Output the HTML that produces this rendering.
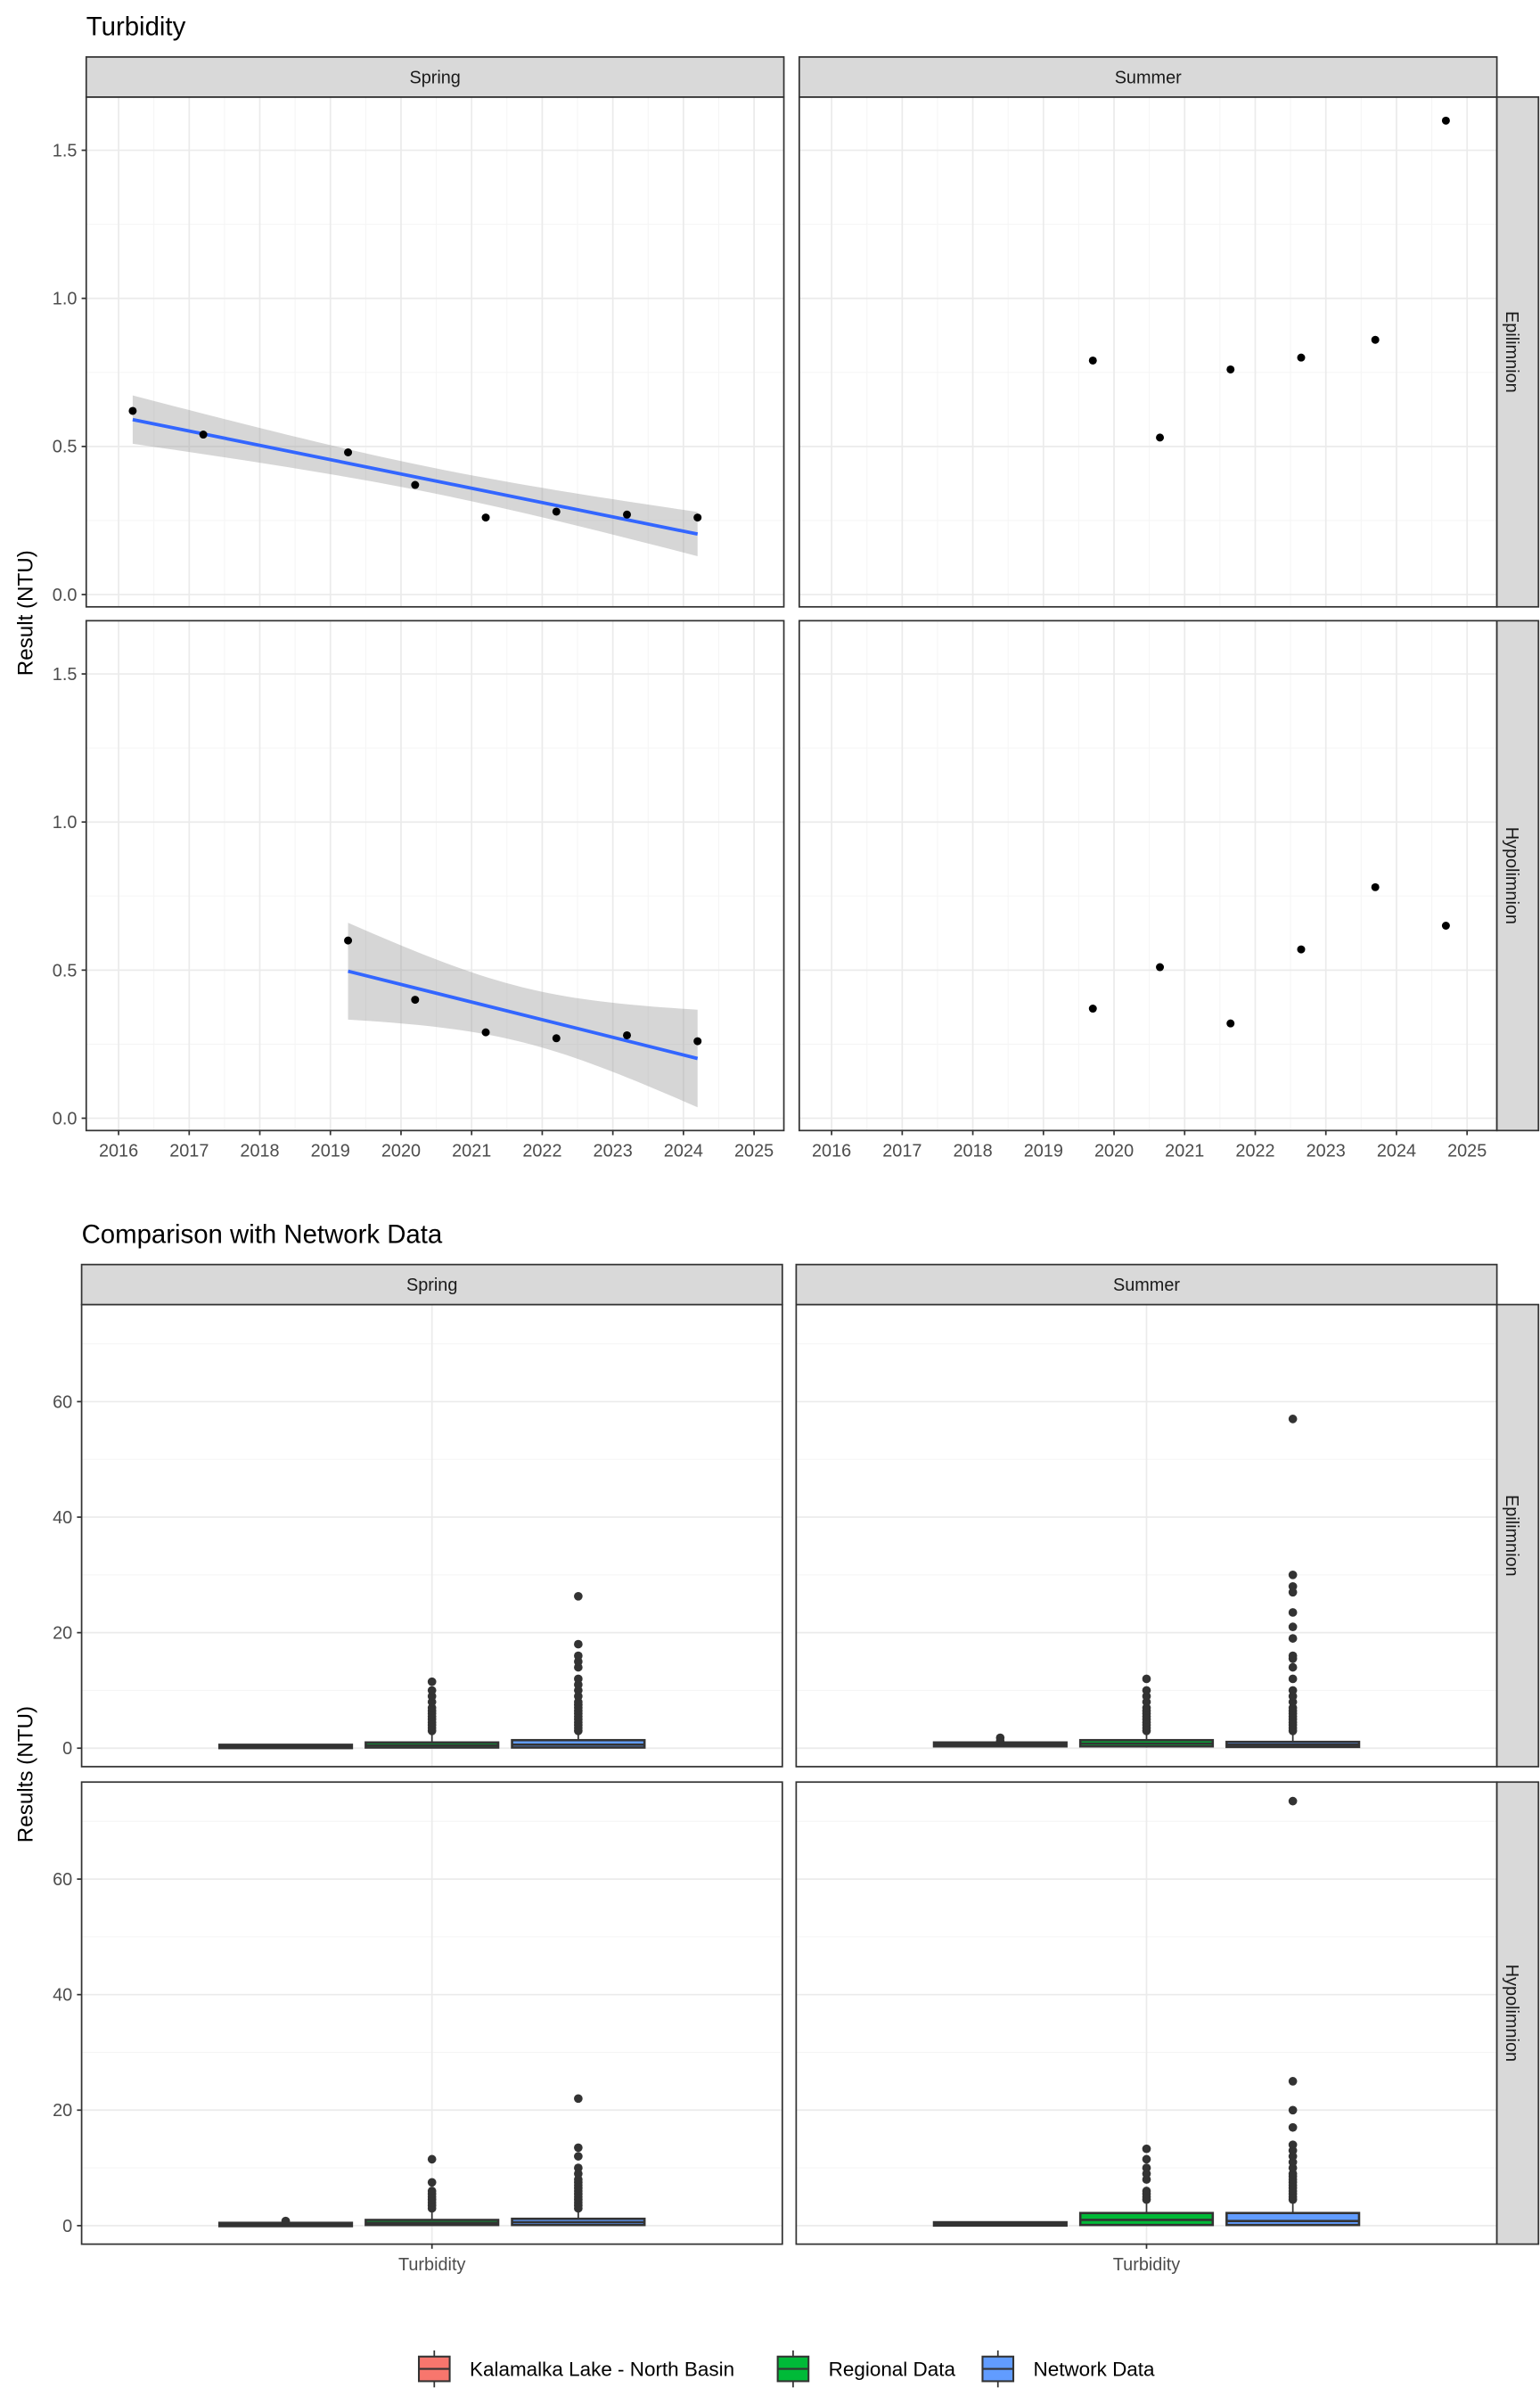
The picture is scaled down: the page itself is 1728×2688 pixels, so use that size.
<!DOCTYPE html>
<html><head><meta charset="utf-8">
<style>
html,body{margin:0;padding:0;background:#fff;}
svg{display:block;font-family:"Liberation Sans",Arial,sans-serif;}
</style></head>
<body>
<svg id="chart" width="1728" height="2688" viewBox="0 0 1000 1555.6" preserveAspectRatio="none" xmlns="http://www.w3.org/2000/svg">
<rect width="1000" height="1555.6" fill="#fff"/>
</svg>
<script>
// ---------- Top chart data ----------
const years = [2016,2017,2018,2019,2020,2021,2022,2023,2024,2025];
const yTicksTop = [0,0.5,1.0,1.5];
const yTickLabelsTop = ["0.0","0.5","1.0","1.5"];
const springEpiX = [2016.2,2017.2,2019.25,2020.2,2021.2,2022.2,2023.2,2024.2];
const springEpiY = [0.62,0.54,0.48,0.37,0.26,0.28,0.27,0.26];
const summerEpiX = [2019.7,2020.65,2021.65,2022.65,2023.7,2024.7];
const summerEpiY = [0.79,0.53,0.76,0.80,0.86,1.60];
const springHypX = [2019.25,2020.2,2021.2,2022.2,2023.2,2024.2];
const springHypY = [0.60,0.40,0.29,0.27,0.28,0.26];
const summerHypX = [2019.7,2020.65,2021.65,2022.65,2023.7,2024.7];
const summerHypY = [0.37,0.51,0.32,0.57,0.78,0.65];

// ---------- Bottom chart data ----------
const groups = ["Kalamalka Lake - North Basin","Regional Data","Network Data"];
const groupColors = ["#F8766D","#00BA38","#619CFF"];
const yTicksBot = [0,20,40,60];
// box stats [q1, median, q3, whiskerLow, whiskerHigh]
const boxSpringEpi = [[0.2,0.3,0.4,0.1,0.6],[0.3,0.5,0.8,0.1,2.5],[0.3,0.6,1.2,0.1,3.0]];
const boxSummerEpi = [[0.5,0.6,0.8,0.3,1.2],[0.5,0.8,1.2,0.1,2.8],[0.4,0.6,0.9,0.1,2.5]];
const boxSpringHyp = [[0.1,0.2,0.3,0.05,0.6],[0.3,0.5,0.8,0.1,2.5],[0.3,0.6,1.0,0.1,2.8]];
const boxSummerHyp = [[0.2,0.3,0.4,0.1,0.6],[0.3,1.0,2.0,0.1,4.0],[0.3,0.8,2.0,0.1,4.5]];
const outSpringEpi = [[],[3,3.5,4,4.5,5,5.5,6,6.5,7,8,9,10,11.5],[3,3.5,4,4.5,5,5.5,6,6.5,7,7.5,8,9,10,11,12,14,15,16,18,26.3]];
const outSummerEpi = [[1.2,1.8],[3,3.5,4,4.5,5,5.5,6,6.5,7,8,9,10,12],[3,3.5,4,4.5,5,5.5,6,6.5,7,8,9,10,12,14,15.5,16,19,21,23.5,27,28,30,57]];
const outSpringHyp = [[0.8],[3,3.5,4,4.5,5,5.5,6,7.5,11.5],[3,3.5,4,4.5,5,5.5,6,6.5,7,7.5,8,9,10,12,13.5,22]];
const outSummerHyp = [[],[4.5,5,5.5,6,8,9,10,11.5,13.3],[4.5,5,5.5,6,6.5,7,7.5,8,8.5,9,10,11,12,13,14,17,20,25,73.5]];

const NS = "http://www.w3.org/2000/svg";
const svg = document.getElementById('chart');
function el(tag, attrs, parent, text){
  const e = document.createElementNS(NS, tag);
  for (const k in attrs) e.setAttribute(k, attrs[k]);
  if (text !== undefined) e.textContent = text;
  (parent||svg).appendChild(e);
  return e;
}
const TICK = "#4D4D4D", STRIP = "#D9D9D9", BORDER = "#333333", GRID = "#EBEBEB", GRIDMIN = "#F5F5F5";

// ---------- TOP ----------
let t = el('text',{x:56,y:23,'font-size':17,fill:'#000'},svg,"Turbidity");



const topCols = [{x0:56,x1:509,name:"Spring"},{x0:519,x1:972,name:"Summer"}];
const topRows = [{y0:63,y1:394,name:"Epilimnion"},{y0:403,y1:734,name:"Hypolimnion"}];
const topData = [[[springEpiX,springEpiY,true],[summerEpiX,summerEpiY,false]],[[springHypX,springHypY,true],[summerHypX,summerHypY,false]]];
function xTop(c, v){ return topCols[c].x0 + 21 + (v-2016)*45.85; }
function yTop(r, v){ return topRows[r].y1 - 8 - v*192.3; }

function regression(xs, ys){
  const n = xs.length; const mx = xs.reduce((a,b)=>a+b)/n, my = ys.reduce((a,b)=>a+b)/n;
  let sxx=0,sxy=0; xs.forEach((x,i)=>{sxx+=(x-mx)**2; sxy+=(x-mx)*(ys[i]-my);});
  const b = sxy/sxx, a = my-b*mx;
  let sse=0; xs.forEach((x,i)=>{sse+=(ys[i]-a-b*x)**2;});
  const s = Math.sqrt(sse/(n-2));
  const tq = {4:2.776,5:2.571,6:2.447,7:2.365,8:2.306}[n-2] || 2.3;
  return {a,b,s,mx,sxx,n,tq};
}

topRows.forEach((row,r)=>{
  topCols.forEach((col,c)=>{
    const g = el('g',{});
    
    
    el('rect',{x:col.x0,y:row.y0,width:col.x1-col.x0,height:row.y1-row.y0,fill:'#fff'},g);
    for (let v=0.25; v<1.7; v+=0.5) el('line',{x1:col.x0,x2:col.x1,y1:yTop(r,v),y2:yTop(r,v),stroke:GRIDMIN,'stroke-width':0.6},g);
    years.forEach((yr,i)=>{ if(i<years.length-1){ const xm=xTop(c,yr+0.5); el('line',{x1:xm,x2:xm,y1:row.y0,y2:row.y1,stroke:GRIDMIN,'stroke-width':0.6},g);} });
    yTicksTop.forEach(v=>el('line',{x1:col.x0,x2:col.x1,y1:yTop(r,v),y2:yTop(r,v),stroke:GRID,'stroke-width':1},g));
    years.forEach(yr=>el('line',{x1:xTop(c,yr),x2:xTop(c,yr),y1:row.y0,y2:row.y1,stroke:GRID,'stroke-width':1},g));
    const [xs,ys,fit] = topData[r][c];
    if (fit){
      const R = regression(xs,ys);
      const xa = Math.min(...xs), xb = Math.max(...xs);
      const up=[], lo=[];
      for (let k=0;k<=40;k++){
        const xv = xa+(xb-xa)*k/40;
        const yv = R.a+R.b*xv;
        const se = R.s*Math.sqrt(1/R.n+(xv-R.mx)**2/R.sxx);
        up.push([xTop(c,xv),yTop(r,yv+R.tq*se)]); lo.push([xTop(c,xv),yTop(r,yv-R.tq*se)]);
      }
      const pts = up.concat(lo.reverse()).map(p=>p.join(',')).join(' ');
      const rib = el('polygon',{points:pts,fill:'#999999','fill-opacity':0.4},g);
      
      
      const ln = el('line',{x1:xTop(c,xa),y1:yTop(r,R.a+R.b*xa),x2:xTop(c,xb),y2:yTop(r,R.a+R.b*xb),stroke:'#3366FF','stroke-width':2.2},g);
      
      
    }
    xs.forEach((xv,i)=>{
      const p = el('circle',{cx:xTop(c,xv),cy:yTop(r,ys[i]),r:2.6,fill:'#000'},g);
      
      
    });
    el('rect',{x:col.x0,y:row.y0,width:col.x1-col.x0,height:row.y1-row.y0,fill:'none',stroke:BORDER,'stroke-width':1},g);
    if (c===0){
      yTicksTop.forEach((v,i)=>{
        el('line',{x1:col.x0-3,x2:col.x0,y1:yTop(r,v),y2:yTop(r,v),stroke:BORDER},g);
        el('text',{x:col.x0-6,y:yTop(r,v)+4,'font-size':11.5,fill:TICK,'text-anchor':'end'},g,yTickLabelsTop[i]);
      });
    }
    if (r===1){
      years.forEach(yr=>{
        el('line',{x1:xTop(c,yr),x2:xTop(c,yr),y1:row.y1,y2:row.y1+3,stroke:BORDER},g);
        el('text',{x:xTop(c,yr),y:row.y1+17,'font-size':11.5,fill:TICK,'text-anchor':'middle'},g,String(yr));
      });
    }
  });
});
topCols.forEach(col=>{
  const s = el('rect',{x:col.x0,y:37,width:col.x1-col.x0,height:26,fill:STRIP,stroke:BORDER,'stroke-width':1});
  
  
  el('text',{x:(col.x0+col.x1)/2,y:54,'font-size':11.5,fill:'#1A1A1A','text-anchor':'middle'},svg,col.name);
});
topRows.forEach(row=>{
  const s = el('rect',{x:972,y:row.y0,width:27,height:row.y1-row.y0,fill:STRIP,stroke:BORDER,'stroke-width':1});
  
  
  const cy=(row.y0+row.y1)/2;
  el('text',{x:981,y:cy,'font-size':11.5,fill:'#1A1A1A','text-anchor':'middle',transform:`rotate(90 981 ${cy})`,'dominant-baseline':'middle'},svg,row.name);
});
t = el('text',{x:0,y:0,'font-size':14,fill:'#000','text-anchor':'middle',transform:'translate(21 398) rotate(-90)'},svg,"Result (NTU)");



// ---------- BOTTOM ----------
t = el('text',{x:53,y:807,'font-size':17,fill:'#000'},svg,"Comparison with Network Data");


const botCols = [{x0:53,x1:508,name:"Spring"},{x0:517,x1:972,name:"Summer"}];
const botRows = [{y0:847,y1:1147,name:"Epilimnion"},{y0:1157,y1:1457,name:"Hypolimnion"}];
const botBoxes = [[boxSpringEpi,boxSummerEpi],[boxSpringHyp,boxSummerHyp]];
const botOut = [[outSpringEpi,outSummerEpi],[outSpringHyp,outSummerHyp]];
function yBot(r,v){ return botRows[r].y1 - 12 - v*3.75; }
function xBot(c,gi){ const mid=(botCols[c].x0+botCols[c].x1)/2; return mid + (gi-1)*95; }

botRows.forEach((row,r)=>{
  botCols.forEach((col,c)=>{
    const g = el('g',{});
    
    
    el('rect',{x:col.x0,y:row.y0,width:col.x1-col.x0,height:row.y1-row.y0,fill:'#fff'},g);
    [10,30,50,70].forEach(v=>el('line',{x1:col.x0,x2:col.x1,y1:yBot(r,v),y2:yBot(r,v),stroke:GRIDMIN,'stroke-width':0.6},g));
    yTicksBot.forEach(v=>el('line',{x1:col.x0,x2:col.x1,y1:yBot(r,v),y2:yBot(r,v),stroke:GRID,'stroke-width':1},g));
    const mid=(col.x0+col.x1)/2;
    el('line',{x1:mid,x2:mid,y1:row.y0,y2:row.y1,stroke:GRID,'stroke-width':1},g);
    groups.forEach((gn,gi)=>{
      const [q1,md,q3,wl,wh] = botBoxes[r][c][gi];
      const cx = xBot(c,gi), w=86;
      const bg = el('g',{},g);
      
      
      el('line',{x1:cx,x2:cx,y1:yBot(r,wh),y2:yBot(r,wl),stroke:BORDER,'stroke-width':1},bg);
      const yt=yBot(r,q3), yb=yBot(r,q1);
      el('rect',{x:cx-w/2,y:yt-0.7,width:w,height:Math.max(yb-yt,0)+1.4,fill:groupColors[gi],stroke:BORDER,'stroke-width':1.5},bg);
      el('line',{x1:cx-w/2,x2:cx+w/2,y1:yBot(r,md),y2:yBot(r,md),stroke:BORDER,'stroke-width':1.5},bg);
      botOut[r][c][gi].forEach(v=>{
        const o = el('circle',{cx:cx,cy:yBot(r,v),r:2.8,fill:BORDER},bg);
        
        
      });
    });
    el('rect',{x:col.x0,y:row.y0,width:col.x1-col.x0,height:row.y1-row.y0,fill:'none',stroke:BORDER,'stroke-width':1},g);
    if (c===0){
      yTicksBot.forEach(v=>{
        el('line',{x1:col.x0-3,x2:col.x0,y1:yBot(r,v),y2:yBot(r,v),stroke:BORDER},g);
        el('text',{x:col.x0-6,y:yBot(r,v)+4,'font-size':11.5,fill:TICK,'text-anchor':'end'},g,String(v));
      });
    }
    if (r===1){
      el('line',{x1:mid,x2:mid,y1:row.y1,y2:row.y1+3,stroke:BORDER},g);
      el('text',{x:mid,y:row.y1+17,'font-size':11.5,fill:TICK,'text-anchor':'middle'},g,"Turbidity");
    }
  });
});
botCols.forEach(col=>{
  const s = el('rect',{x:col.x0,y:821,width:col.x1-col.x0,height:26,fill:STRIP,stroke:BORDER,'stroke-width':1});
  
  
  el('text',{x:(col.x0+col.x1)/2,y:838,'font-size':11.5,fill:'#1A1A1A','text-anchor':'middle'},svg,col.name);
});
botRows.forEach(row=>{
  const s = el('rect',{x:972,y:row.y0,width:27,height:row.y1-row.y0,fill:STRIP,stroke:BORDER,'stroke-width':1});
  
  
  const cy=(row.y0+row.y1)/2;
  el('text',{x:981,y:cy,'font-size':11.5,fill:'#1A1A1A','text-anchor':'middle',transform:`rotate(90 981 ${cy})`,'dominant-baseline':'middle'},svg,row.name);
});
t = el('text',{x:0,y:0,'font-size':14,fill:'#000','text-anchor':'middle',transform:'translate(21 1152) rotate(-90)'},svg,"Results (NTU)");



// legend
const legX = [272,505,638];
groups.forEach((gn,gi)=>{
  const lg = el('g',{});
  
  
  const x=legX[gi];
  el('line',{x1:x+10,x2:x+10,y1:1526,y2:1550,stroke:BORDER,'stroke-width':1},lg);
  el('rect',{x:x,y:1530,width:20,height:16,fill:groupColors[gi],stroke:BORDER,'stroke-width':1.2},lg);
  el('line',{x1:x,x2:x+20,y1:1538,y2:1538,stroke:BORDER,'stroke-width':1.2},lg);
  el('text',{x:x+33,y:1542.5,'font-size':13,fill:'#000'},lg,gn);
});
</script>
</body></html>
